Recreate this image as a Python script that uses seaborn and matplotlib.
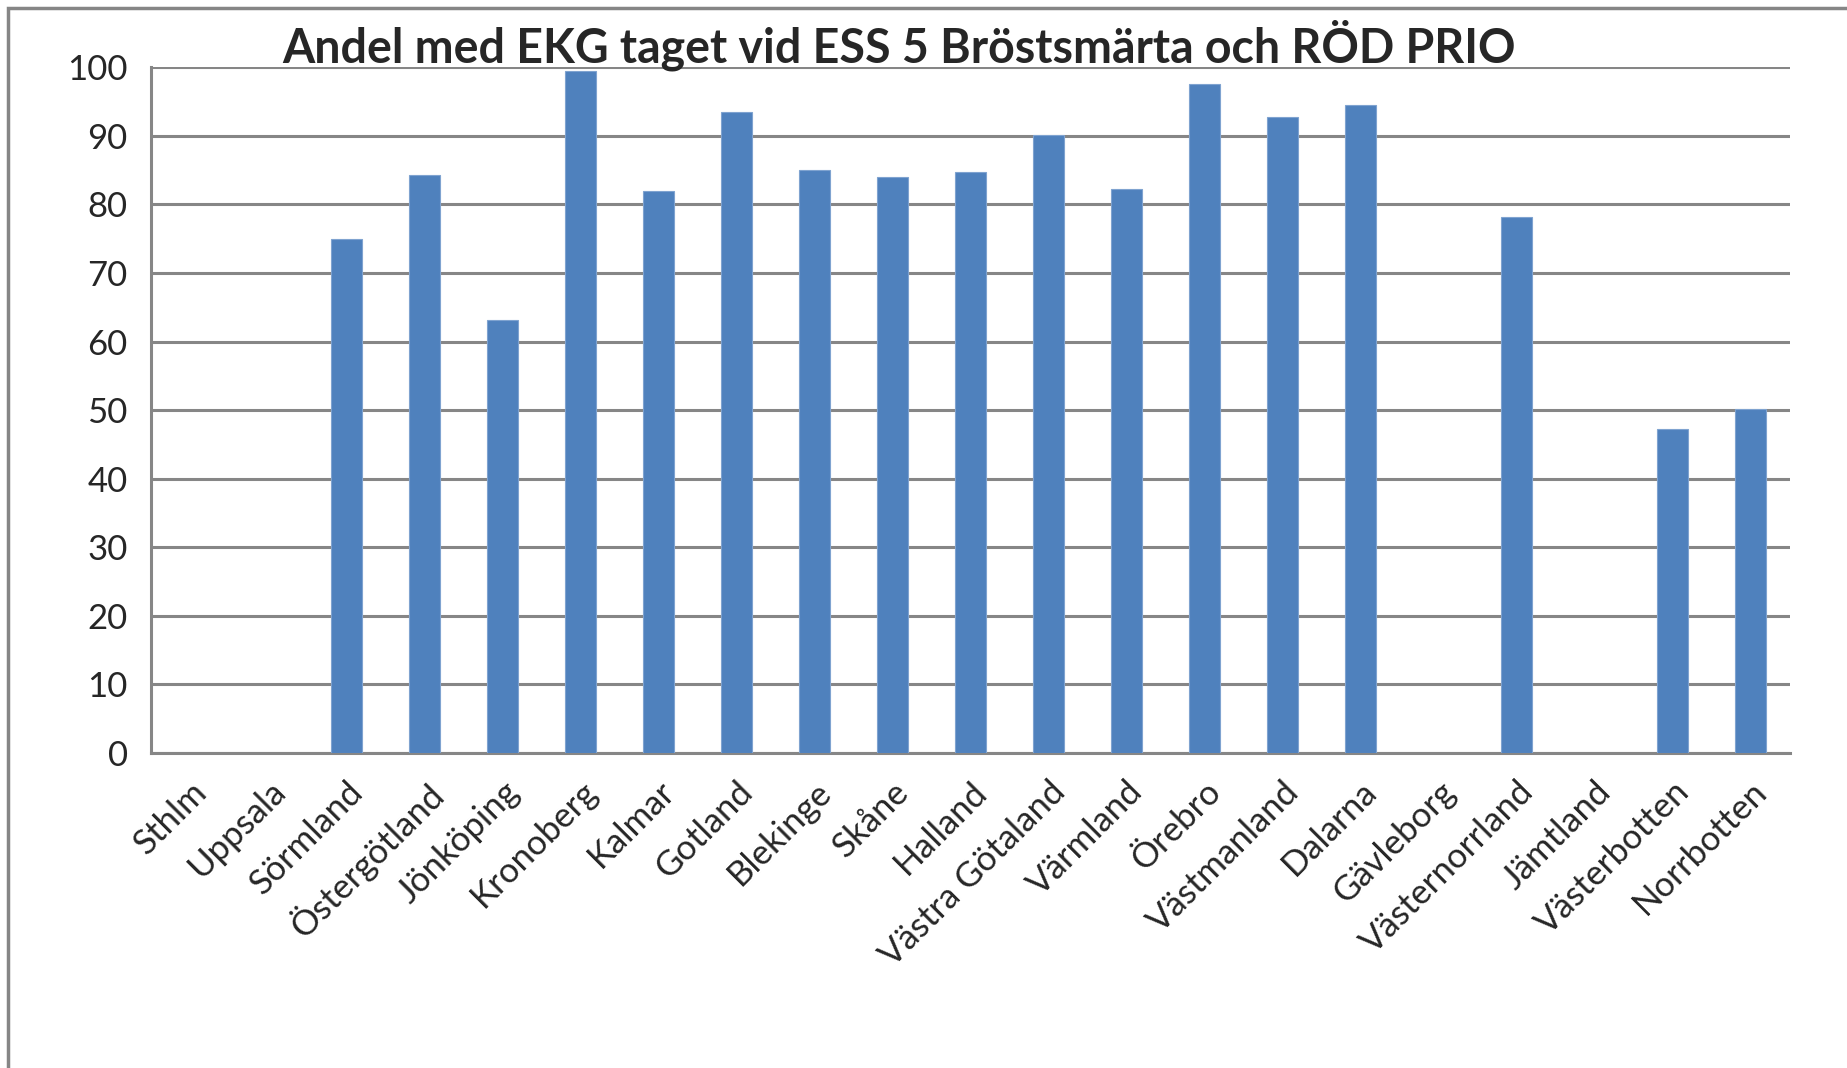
import numpy as np
import pandas as pd
import seaborn as sns
import matplotlib.pyplot as plt
from matplotlib.patches import Rectangle

regions = ["Sthlm", "Uppsala", "Sörmland", "Östergötland", "Jönköping", "Kronoberg",
           "Kalmar", "Gotland", "Blekinge", "Skåne", "Halland", "Västra Götaland",
           "Värmland", "Örebro", "Västmanland", "Dalarna", "Gävleborg",
           "Västernorrland", "Jämtland", "Västerbotten", "Norrbotten"]
# no value reported for Sthlm, Uppsala, Gävleborg, Jämtland
andel_ekg = [np.nan, np.nan, 75.0, 84.3, 63.2, 99.4, 82.0, 93.5, 85.0, 84.0, 84.7,
             90.1, 82.2, 97.6, 92.8, 94.5, np.nan, 78.1, np.nan, 47.3, 50.1]

df = pd.DataFrame({"Region": regions, "Andel": andel_ekg})

sns.set_style("white")
plt.rcParams['font.family'] = ['Lato', 'DejaVu Sans']

fig = plt.figure(figsize=(18.47, 10.68), dpi=100)
ax = fig.add_axes([0.082, 0.295, 0.887, 0.642])

grid_col = "#868686"
sns.barplot(data=df, x="Region", y="Andel", order=regions, color="#4F81BD",
            width=0.4, saturation=1, edgecolor="#7FA3D0", linewidth=0.8,
            errorbar=None, ax=ax, zorder=3)

ax.set_ylim(0, 100)
ax.set_xlim(-0.5, len(regions) - 0.5)
ax.set_yticks(range(0, 101, 10))
ax.yaxis.grid(True, color=grid_col, linewidth=2.2, zorder=0)
ax.set_axisbelow(True)

for side in ["top", "right"]:
    ax.spines[side].set_visible(False)
for side in ["left", "bottom"]:
    ax.spines[side].set_color(grid_col)
    ax.spines[side].set_linewidth(2.2)

# category boundary ticks on x, labels at the centres
ax.set_xticks(np.arange(-0.5, len(regions)), minor=True)
ax.set_xticks(np.arange(len(regions)))
ax.tick_params(axis="x", which="minor", length=11, width=2.2, color=grid_col, direction="out")
ax.tick_params(axis="x", which="major", length=0, pad=16)
ax.tick_params(axis="y", length=11, width=2.2, color=grid_col, direction="out", pad=6)
ax.set_xticklabels(regions, rotation=45, ha="right", rotation_mode="anchor", fontsize=25)
for lbl in ax.get_yticklabels():
    lbl.set_fontsize(25)
ax.set_xlabel("")
ax.set_ylabel("")

fig.text(0.487, 0.958, "Andel med EKG taget vid ESS 5 Bröstsmärta och RÖD PRIO",
         ha="center", va="center", fontsize=33.5, fontweight="bold")

# chart area frame (cut off on the right and bottom)
fig.patches.append(Rectangle((0.0045, -0.1), 1.2, 1.0925, transform=fig.transFigure,
                             fill=False, edgecolor=grid_col, linewidth=2.5, zorder=10))

fig.savefig("out.png", dpi=100)
